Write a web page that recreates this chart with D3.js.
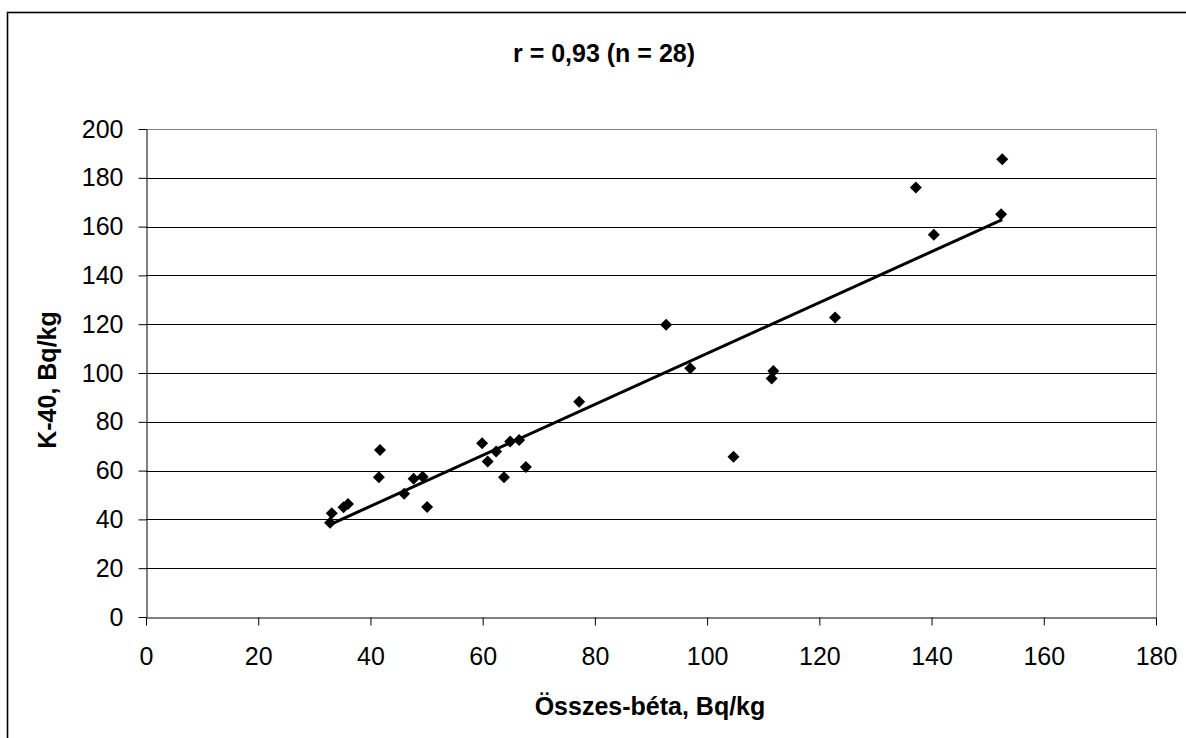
<!DOCTYPE html>
<html><head><meta charset="utf-8">
<script src="https://cdn.jsdelivr.net/npm/d3@7"></script>
<style>body{margin:0;background:#fff}svg{display:block}text{font-family:"Liberation Sans",Arial,sans-serif}</style>
</head><body>
<svg id="c" width="1186" height="738"></svg>
<script>
const title = "r = 0,93 (n = 28)";
const xTitle = "Összes-béta, Bq/kg";
const yTitle = "K-40, Bq/kg";
const xTicks = [0,20,40,60,80,100,120,140,160,180];
const yTicks = [0,20,40,60,80,100,120,140,160,180,200];
const betaValues = [32.8,33.1,35.2,36.0,41.7,41.5,46.0,47.7,49.3,50.1,59.9,60.9,62.4,63.8,64.9,66.5,67.7,77.2,92.7,97.0,104.7,111.8,111.5,122.8,137.2,140.4,152.6,152.4];
const k40Values  = [38.6,42.5,45.0,46.3,68.4,57.3,50.5,56.7,57.5,45.1,71.2,63.7,67.8,57.3,71.9,72.5,61.5,88.2,119.8,101.9,65.7,100.8,97.7,122.7,176.0,156.7,187.6,165.1];

const svg = d3.select("#c");
const L=146, R=1156, T=129, B=617;
const x = d3.scaleLinear().domain([0,180]).range([L,R]);
const y = d3.scaleLinear().domain([0,200]).range([B,T]);
const FONT = "Liberation Sans, Arial, sans-serif";

// outer border
svg.append("rect").attr("x",7.5).attr("y",12.5).attr("width",1300).attr("height",900)
  .attr("fill","none").attr("stroke","#000").attr("stroke-width",1.6);

// grid
svg.append("g").selectAll("line").data(yTicks.slice(1)).join("line")
  .attr("x1",L).attr("x2",R).attr("y1",d=>Math.round(y(d))+0.5).attr("y2",d=>Math.round(y(d))+0.5)
  .attr("stroke",d=>d===200?"#808080":"#000").attr("stroke-width",1);
// right border of plot area
svg.append("line").attr("x1",R+0.5).attr("x2",R+0.5).attr("y1",T).attr("y2",B)
  .attr("stroke","#808080");

// axes
const yAxis = svg.append("g").attr("transform",`translate(${L+0.5},0)`)
  .call(d3.axisLeft(y).tickValues(yTicks).tickSize(8).tickPadding(15).tickSizeOuter(0));
const xAxis = svg.append("g").attr("transform",`translate(0,${B+0.5})`)
  .call(d3.axisBottom(x).tickValues(xTicks).tickSize(8).tickPadding(22).tickSizeOuter(0));
[yAxis,xAxis].forEach(a=>{
  a.attr("font-size",25).attr("font-family",FONT);
  a.select(".domain").attr("stroke","#000");
  a.selectAll(".tick line").attr("stroke","#000");
  a.selectAll("text").attr("fill","#000");
});

// trendline (least squares)
const n = betaValues.length;
const mx = d3.mean(betaValues), my = d3.mean(k40Values);
let sxy=0,sxx=0;
for(let i=0;i<n;i++){sxy+=(betaValues[i]-mx)*(k40Values[i]-my);sxx+=(betaValues[i]-mx)**2;}
const slope = sxy/sxx, icpt = my-slope*mx;
const [xmin,xmax] = d3.extent(betaValues);
svg.append("line").attr("x1",x(xmin)).attr("y1",y(slope*xmin+icpt))
  .attr("x2",x(xmax)).attr("y2",y(slope*xmax+icpt))
  .attr("stroke","#000").attr("stroke-width",3);

// points
const sym = d3.symbol().type(d3.symbolSquare).size(72);
svg.append("g").selectAll("path").data(betaValues.map((v,i)=>[v,k40Values[i]])).join("path")
  .attr("d",sym).attr("transform",d=>`translate(${x(d[0])},${y(d[1])}) rotate(45)`)
  .attr("fill","#000");

// titles
svg.append("text").attr("x",604).attr("y",62).attr("text-anchor","middle")
  .attr("font-size",25).attr("font-weight","bold").text(title);
svg.append("text").attr("x",650).attr("y",715).attr("text-anchor","middle")
  .attr("font-size",25).attr("font-weight","bold").text(xTitle);
svg.append("text").attr("transform","translate(56,380) rotate(-90)").attr("text-anchor","middle")
  .attr("font-size",25).attr("font-weight","bold").text(yTitle);
</script>
</body></html>
